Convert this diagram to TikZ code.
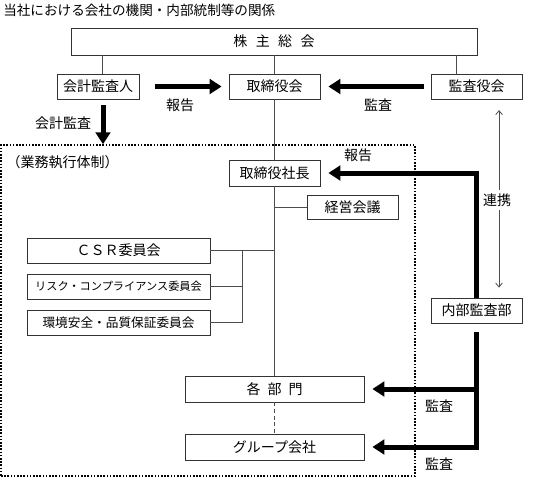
\documentclass[tikz,border=0pt]{standalone}
\usepackage{fontspec}
\setmainfont{Noto Sans CJK JP}
\usetikzlibrary{arrows.meta}
\begin{document}
\begin{tikzpicture}[x=0.75pt,y=-0.75pt,
  font=\fontsize{10.5}{12}\selectfont,
  box/.style={draw=black!80, line width=0.6pt, rectangle, inner sep=0pt, fill=white},
  thinline/.style={draw=black!70, line width=0.6pt},
  bigarrow/.style={line width=3.75pt, -{Triangle[length=9pt,width=11pt]}},
  lbl/.style={inner sep=1pt}]
\useasboundingbox (0,0) rectangle (549,479);

% title
\node[anchor=west, inner sep=0pt, font=\fontsize{10.2}{12}\selectfont] (title) at (3,10) {当社における会社の機関・内部統制等の関係};

% execution frame
\node[draw, line width=1.1pt, dash pattern=on 1.2pt off 1.2pt, minimum width=310.5pt, minimum height=248.25pt, inner sep=0pt] (exec) at (208,310.5) {};
\node[anchor=west, lbl] (execlbl) at (5,162) {（業務執行体制）};

% boxes
\node[box, minimum width=304.5pt, minimum height=20.25pt] (kabu) at (274,41.5) {株\hspace{0.6em}主\hspace{0.6em}総\hspace{0.6em}会};
\node[box, minimum width=61.5pt, minimum height=18.75pt] (kaikei) at (98,86.5) {会計監査人};
\node[box, minimum width=68.25pt, minimum height=18.75pt] (tori) at (274.5,86.5) {取締役会};
\node[box, minimum width=68.25pt, minimum height=18.75pt] (kansa) at (476.5,86.5) {監査役会};
\node[box, minimum width=68.25pt, minimum height=19.5pt] (shacho) at (274.5,173) {取締役社長};
\node[box, minimum width=68.25pt, minimum height=18pt] (keiei) at (352.5,207) {経営会議};
\node[box, minimum width=137.25pt, minimum height=18.75pt] (csr) at (118.5,250.5) {ＣＳＲ委員会};
\node[box, minimum width=137.25pt, minimum height=18.75pt, font=\fontsize{8.4}{10}\selectfont] (risk) at (118.5,286.5) {リスク・コンプライアンス委員会};
\node[box, minimum width=137.25pt, minimum height=18.75pt, font=\fontsize{9.5}{11}\selectfont] (kankyo) at (118.5,322.5) {環境安全・品質保証委員会};
\node[box, minimum width=68.25pt, minimum height=18.75pt] (naibu) at (476.5,310.5) {内部監査部};
\node[box, minimum width=134.25pt, minimum height=19.5pt] (kakubu) at (274.5,389) {各\hspace{0.5em}部\hspace{0.5em}門};
\node[box, minimum width=134.25pt, minimum height=19.5pt] (group) at (274.5,447) {グループ会社};

% thin connectors
\draw[thinline] ([xshift=3pt]kaikei.north) -- ([xshift=3pt]kaikei.north |- kabu.south);
\draw[thinline] (tori.north) -- (tori.north |- kabu.south);
\draw[thinline] ([xshift=-15.4pt]kansa.north) -- ([xshift=-15.4pt]kansa.north |- kabu.south);
\draw[thinline] (tori.south) -- (shacho.north);
\draw[thinline] (shacho.south) -- (kakubu.north);
\draw[thinline] (keiei.west) -- (keiei.west -| shacho.south);
\draw[thinline] (csr.east) -- (csr.east -| shacho.south);
\coordinate (br) at (242,250.5);
\draw[thinline] (risk.east) -- (risk.east -| br);
\draw[thinline] (br) |- (kankyo.east);
\draw[thinline, dash pattern=on 3pt off 2pt] (kakubu.south) -- (group.north);

% 連携
\draw[thinline, {Straight Barb[length=3pt,width=5pt]}-{Straight Barb[length=3pt,width=5pt]}, shorten <=8pt, shorten >=7.5pt] ([xshift=16.9pt]kansa.south) -- ([xshift=16.9pt]kansa.south |- naibu.north);
\node[fill=white, inner sep=3pt] (renkei) at (497,200) {連携};

% thick arrows
\draw[bigarrow, shorten <=12pt, shorten >=5.25pt] (kaikei.east) -- (tori.west);
\node[lbl] (l1) at (180,105) {報告};
\draw[bigarrow, shorten <=5.25pt, shorten >=6pt] (kansa.west) -- (tori.east);
\node[lbl] (l2) at (378,105) {監査};
\draw[bigarrow, shorten <=4.5pt] ([xshift=3.75pt]kaikei.south) -- ([xshift=3.75pt]kaikei.south |- exec.north);
\node[lbl] (l3) at (63,123) {会計監査};
\draw[bigarrow, shorten >=6pt] (naibu.north) |- (shacho.east);
\node[lbl] (l4) at (358,155) {報告};
\draw[bigarrow, shorten <=6.75pt, shorten >=6pt] (naibu.south) |- (group.east);
\draw[bigarrow, shorten >=6pt] (naibu.south |- kakubu.east) -- (kakubu.east);
\node[lbl] (l5) at (439,406) {監査};
\node[lbl] (l6) at (439,464) {監査};
\end{tikzpicture}
\end{document}
